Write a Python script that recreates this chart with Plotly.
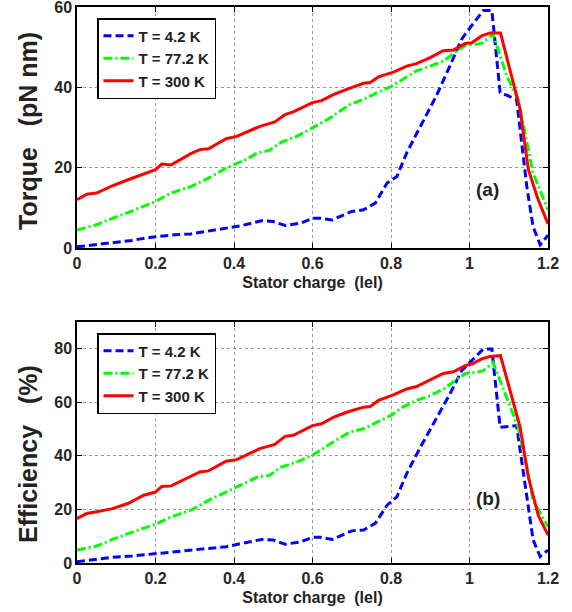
import plotly.graph_objects as go

# torque panel (a)
x_t42 = [0, 0.05, 0.09, 0.14, 0.19, 0.25, 0.29, 0.34, 0.38, 0.42, 0.47, 0.5, 0.53, 0.57, 0.6, 0.62,
         0.65, 0.7, 0.73, 0.76, 0.79, 0.815, 0.84, 0.875, 0.915, 0.95, 0.98, 1.005, 1.035, 1.057,
         1.078, 1.12, 1.146, 1.162, 1.18, 1.2]
y_t42 = [0.3, 0.9, 1.4, 1.9, 2.7, 3.3, 3.5, 4.3, 4.9, 5.6, 6.8, 6.6, 5.6, 6.2, 7.4, 7.4,
         7.0, 9.1, 9.5, 11.2, 16.2, 17.8, 23.7, 30.3, 37.8, 45.3, 52.0, 55.3, 59.1, 59.1,
         38.7, 37.0, 15.3, 5.3, 0.8, 3.2]
x_t77 = [0, 0.05, 0.09, 0.13, 0.2, 0.24, 0.29, 0.335, 0.38, 0.43, 0.46, 0.49, 0.52, 0.56, 0.6,
         0.645, 0.695, 0.73, 0.765, 0.8, 0.83, 0.865, 0.9, 0.935, 0.963, 0.99, 1.018, 1.035, 1.06,
         1.095, 1.124, 1.146, 1.162, 1.2]
y_t77 = [4.5, 5.8, 7.4, 8.8, 11.6, 13.7, 15.3, 17.4, 19.9, 22.0, 23.7, 24.3, 26.3, 27.8, 29.9,
         32.4, 35.7, 37.0, 38.7, 40.2, 42.0, 44.1, 45.3, 46.6, 48.7, 50.5, 50.7, 51.1, 53.3,
         42.8, 37.0, 26.2, 18.7, 9.5]
x_t300 = [0, 0.025, 0.05, 0.09, 0.13, 0.17, 0.2, 0.216, 0.24, 0.29, 0.313, 0.335, 0.38, 0.407,
          0.466, 0.504, 0.53, 0.551, 0.6, 0.623, 0.653, 0.687, 0.73, 0.747, 0.768, 0.806, 0.84,
          0.865, 0.9, 0.933, 0.959, 0.989, 1.006, 1.031, 1.052, 1.079, 1.129, 1.15, 1.175, 1.2]
y_t300 = [12.0, 13.4, 13.7, 15.5, 17.0, 18.5, 19.5, 20.9, 20.7, 23.5, 24.5, 24.7, 27.2, 27.8,
          30.3, 31.4, 33.2, 33.9, 36.2, 36.7, 38.2, 39.5, 41.0, 41.2, 42.6, 43.8, 45.3,
          45.9, 47.4, 49.1, 49.3, 50.9, 51.1, 52.8, 53.5, 53.5, 34.5, 19.5, 12.0, 6.0]

# efficiency panel (b)
x_e42 = x_t42
y_e42 = [0.5, 1.4, 2.1, 2.6, 3.3, 4.2, 4.8, 5.5, 6.1, 7.3, 8.8, 8.6, 7.0, 7.9, 9.6, 9.6,
         8.8, 12.0, 12.3, 14.8, 21.6, 24.7, 33.4, 43.3, 53.8, 63.1, 71.8, 75.5, 79.9, 79.9,
         50.7, 51.3, 25.9, 8.6, 2.4, 4.8]
x_e77 = x_t77
y_e77 = [4.8, 6.3, 8.8, 11.0, 14.5, 17.2, 19.7, 23.4, 26.5, 29.9, 32.1, 32.7, 35.8, 37.7, 40.2,
         44.5, 48.9, 50.1, 52.6, 55.1, 58.2, 60.7, 62.5, 65.0, 68.1, 70.8, 71.2, 71.8, 74.9,
         61.9, 50.7, 35.8, 23.4, 13.5]
x_e300 = x_t300
y_e300 = [16.6, 18.5, 19.1, 20.3, 22.2, 25.3, 26.5, 28.6, 28.8, 32.4, 34.0, 34.4, 38.0, 38.6,
          42.7, 44.3, 47.3, 47.7, 51.3, 52.0, 54.4, 56.3, 58.2, 58.4, 60.7, 62.8, 65.0,
          65.9, 68.5, 70.8, 71.4, 73.7, 74.3, 76.2, 77.1, 77.4, 50.7, 32.1, 17.9, 10.4]

names = ["T = 4.2 K", "T = 77.2 K", "T = 300 K"]
styles = [dict(color="#0000FF", width=3, dash="8px,4px"),
          dict(color="#00FF00", width=3, dash="9px,3px,2px,3px"),
          dict(color="#FF0000", width=3)]

fig = go.Figure()
top = [(x_t42, y_t42), (x_t77, y_t77), (x_t300, y_t300)]
bot = [(x_e42, y_e42), (x_e77, y_e77), (x_e300, y_e300)]
for (x, y), nm, st in zip(top, names, styles):
    fig.add_trace(go.Scatter(x=x, y=y, name="<b>" + nm + "</b>", mode="lines", line=st,
                             xaxis="x", yaxis="y", legend="legend"))
for (x, y), nm, st in zip(bot, names, styles):
    fig.add_trace(go.Scatter(x=x, y=y, name="<b>" + nm + "</b>", mode="lines", line=st,
                             xaxis="x2", yaxis="y2", legend="legend2"))

FONT = "Liberation Sans"
tickfont = dict(family=FONT, size=16, color="#262626")
axis_common = dict(showline=True, linecolor="black", linewidth=1.5, mirror="ticks",
                   ticks="inside", ticklen=5, tickcolor="black", tickfont=tickfont,
                   tickprefix="<b>", ticksuffix="</b>", automargin=False,
                   ticklabeloverflow="allow",
                   showgrid=True, gridcolor="#9a9a9a", griddash="dot", gridwidth=1,
                   zeroline=False)
xtitle = dict(text="<b>Stator charge  (lel)</b>", font=dict(family=FONT, size=16, color="#222"),
              standoff=6)
ytitlefont = dict(family=FONT, size=25, color="#222")
legfont = dict(family=FONT, size=15, color="#222")

# plot area: 471 x 556 px inside the margins
fig.update_layout(
    width=572, height=612,
    margin=dict(l=77, r=24, t=7, b=49),
    plot_bgcolor="white", paper_bgcolor="white",
    font=dict(family=FONT, color="#222"),
    xaxis=dict(domain=[0, 1], range=[0, 1.2], dtick=0.2, anchor="y", title=xtitle, **axis_common),
    yaxis=dict(domain=[0.5665, 1], range=[0, 60], dtick=20, anchor="x", **axis_common),
    xaxis2=dict(domain=[0, 1], range=[0, 1.2], dtick=0.2, anchor="y2", title=xtitle, **axis_common),
    yaxis2=dict(domain=[0, 0.4335], range=[0, 90], dtick=20, anchor="x2", **axis_common),
    legend=dict(x=20/471, y=1-11/556, xanchor="left", yanchor="top", bgcolor="white",
                bordercolor="black", borderwidth=1.5, itemwidth=30, tracegroupgap=0, font=legfont),
    legend2=dict(x=20/471, y=1-326/556, xanchor="left", yanchor="top", bgcolor="white",
                 bordercolor="black", borderwidth=1.5, itemwidth=30, tracegroupgap=0, font=legfont),
    annotations=[
        dict(text="<b>Torque   (pN nm)</b>", textangle=-90, xref="paper", yref="paper",
             x=-49/471, y=(563-131)/556, xanchor="center", yanchor="middle", showarrow=False,
             font=ytitlefont),
        dict(text="<b>Efficiency   (%)</b>", textangle=-90, xref="paper", yref="paper",
             x=-49/471, y=(563-454)/556, xanchor="center", yanchor="middle", showarrow=False,
             font=ytitlefont),
        dict(text="<b>(a)</b>", x=1.047, y=14.5, xref="x", yref="y", showarrow=False,
             font=dict(family=FONT, size=19, color="#222")),
        dict(text="<b>(b)</b>", x=1.047, y=24.2, xref="x2", yref="y2", showarrow=False,
             font=dict(family=FONT, size=19, color="#222")),
    ],
)

# drop the page's default body margin so the figure sits at the window corner
fig.write_html("out.html", config={"displayModeBar": False},
               post_script="document.body.style.margin='0px';")
